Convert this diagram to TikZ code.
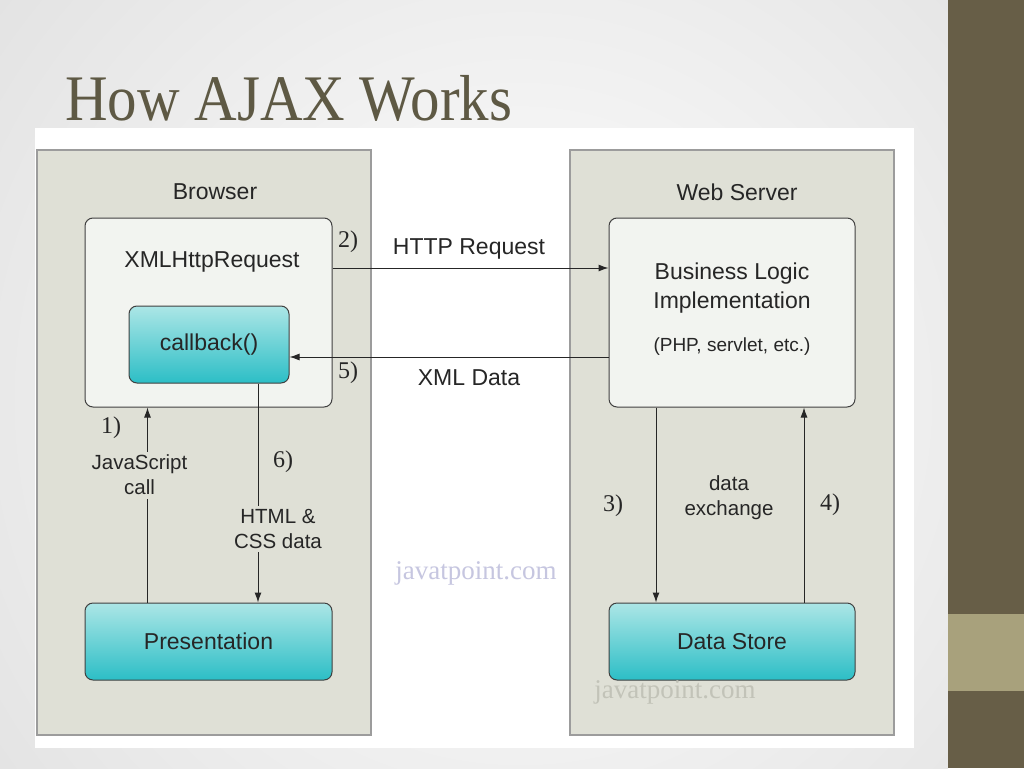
\documentclass[tikz,border=0pt]{standalone}
\usepackage{fontspec}
\setmainfont{Liberation Serif}
\setsansfont{Liberation Sans}
\usetikzlibrary{arrows.meta}

\definecolor{panelFill}{HTML}{DFE0D6}
\definecolor{panelLine}{HTML}{9C9C9C}
\definecolor{boxFill}{HTML}{F2F4F0}
\definecolor{tealTop}{HTML}{ACE6E6}
\definecolor{tealBot}{HTML}{2CBEC6}
\definecolor{titleCol}{HTML}{5E5944}
\definecolor{barDark}{HTML}{675E47}
\definecolor{barLight}{HTML}{A8A17C}
\definecolor{markA}{HTML}{C6C6E0}
\definecolor{markB}{HTML}{C2C3B8}

\begin{document}
\begin{tikzpicture} [x=1pt,y=-1pt,
	panel/.style={shape=rectangle,draw=panelLine,line width=1.2pt,fill=panelFill,inner sep=0pt},
	softbox/.style={shape=rectangle,rounded corners=8pt,draw=black!75,line width=1pt,fill=boxFill,inner sep=0pt},
	tealbox/.style={shape=rectangle,rounded corners=8pt,draw=black!75,line width=1pt,top color=tealTop,bottom color=tealBot,inner sep=0pt,font=\sffamily\fontsize{23}{27}\selectfont,text=black!85},
	txt/.style={font=\sffamily\fontsize{23}{27}\selectfont,text=black!85,inner sep=0pt,align=center},
	smalltxt/.style={font=\sffamily\fontsize{20.5}{25}\selectfont,text=black!85,align=center},
	stepnum/.style={font=\fontsize{24}{28}\selectfont,text=black!85,inner sep=0pt},
	flow/.style={-{Latex[length=10pt,width=7pt]},line width=1pt,draw=black!85}]
	\useasboundingbox (0,0) rectangle (1024,768);

	% slide
	\begin{scope}
		\clip (0,0) rectangle (948,768);
		\fill[black!12] (0,0) rectangle (948,768);
		\shade[inner color=white,outer color=black!12] (520,400) circle (720pt);
	\end{scope}
	\fill[barDark] (948,0) rectangle (1024,768);
	\fill[barLight] (948,614) rectangle (1024,691);
	\fill[white] (35,128) rectangle (914,748);
	\node (title) at (65,120)[anchor=base west,inner sep=0pt,xscale=0.907,font=\fontsize{65}{70}\selectfont,text=titleCol] {How AJAX Works};

	% panels
	\node (browser) at (204,442.5)[panel,minimum width=334pt,minimum height=585pt] {};
	\node (server) at (732,442.5)[panel,minimum width=324pt,minimum height=585pt] {};
	\node (browserLbl) at (215,192)[txt] {Browser};
	\node (serverLbl) at (737,192)[txt] {Web Server};

	% boxes
	\node (xhr) at (208.5,312.5)[softbox,minimum width=247pt,minimum height=189pt] {};
	\node (xhrLbl) at (212,262)[txt] {XMLHttpRequest};
	\node (callback) at (209,344.5)[tealbox,minimum width=160pt,minimum height=77pt] {callback()};
	\node (logic) at (732,312.5)[softbox,minimum width=246pt,minimum height=189pt] {};
	\node (logicLbl) at (732,288)[txt] {Business Logic\\[2pt]Implementation};
	\node (logicSub) at (732,347)[txt,font=\sffamily\fontsize{19}{23}\selectfont] {(PHP, servlet, etc.)};
	\node (pres) at (208.5,641.5)[tealbox,minimum width=247pt,minimum height=77pt] {Presentation};
	\node (store) at (732,641.5)[tealbox,minimum width=246pt,minimum height=77pt] {Data Store};

	% flows
	\draw[flow] ([yshift=44.5pt]xhr.east) -- ([yshift=44.5pt]logic.west);
	\draw[flow] ([yshift=-44.5pt]logic.west) -- ([yshift=-12.5pt]callback.east);
	\draw[flow] ([xshift=-61pt]pres.north) -- node[smalltxt,fill=panelFill,pos=0.653,xshift=-8pt] {JavaScript\\call} ([xshift=-61pt]xhr.south);
	\draw[flow] ([xshift=49pt]callback.south) -- node[smalltxt,fill=panelFill,pos=0.666,xshift=20pt] {HTML \&\\CSS data} ([xshift=49.5pt]pres.north);
	\draw[flow] ([xshift=-76pt]logic.south) -- ([xshift=-76pt]store.north);
	\draw[flow] ([xshift=72pt]store.north) -- ([xshift=72pt]logic.south);

	\node (httpLbl) at (469,249)[txt] {HTTP Request};
	\node (xmlLbl) at (469,378)[txt] {XML Data};
	\node (xchgLbl) at (729,498)[smalltxt] {data\\exchange};

	% step numbers
	\node (n1) at (111,428)[stepnum] {1)};
	\node (n2) at (348,242)[stepnum] {2)};
	\node (n3) at (613,506)[stepnum] {3)};
	\node (n4) at (830,505)[stepnum] {4)};
	\node (n5) at (348,373)[stepnum] {5)};
	\node (n6) at (283,462)[stepnum] {6)};

	% watermarks
	\node (markOne) at (476,573)[font=\fontsize{27}{30}\selectfont,text=markA] {javatpoint.com};
	\node (markTwo) at (675,692)[font=\fontsize{27}{30}\selectfont,text=markB] {javatpoint.com};
\end{tikzpicture}
\end{document}
